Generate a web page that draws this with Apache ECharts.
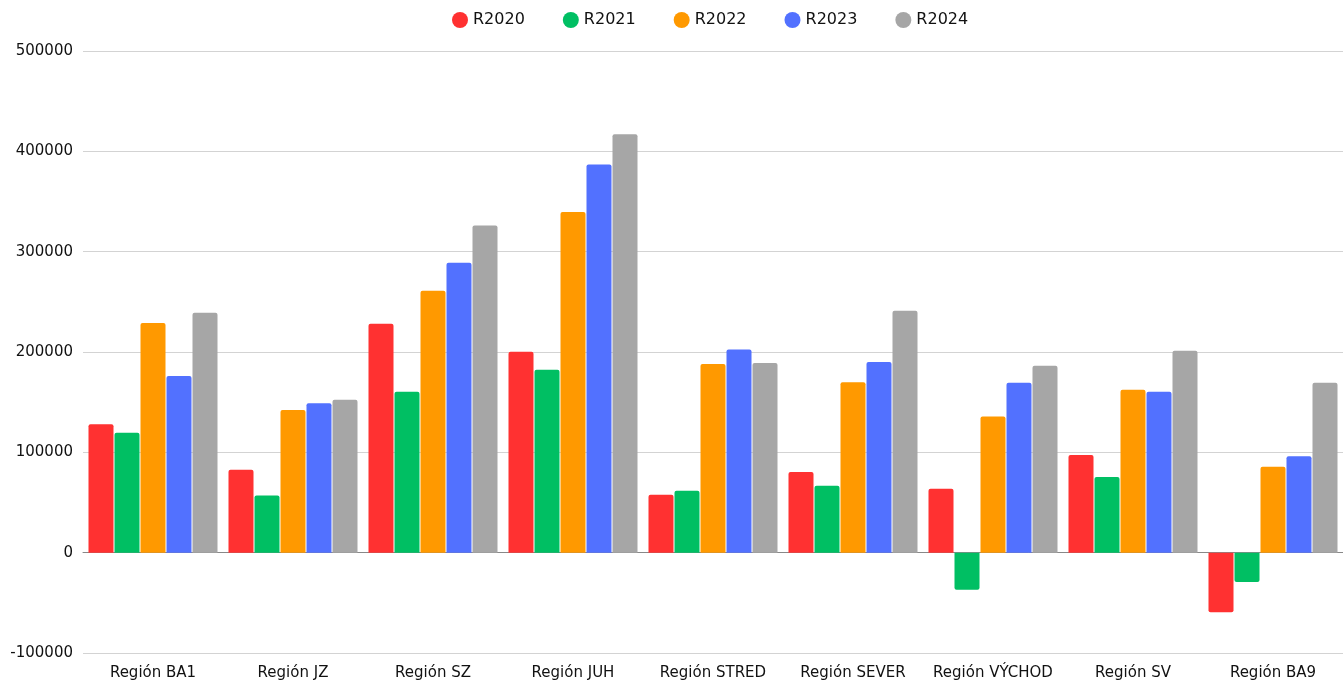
<!DOCTYPE html>
<html>
<head>
<meta charset="utf-8">
<script src="https://cdn.jsdelivr.net/npm/echarts@6/dist/echarts.min.js"></script>
<style>html,body{margin:0;padding:0;background:#fff}#c{width:1343px;height:684px}</style>
</head>
<body>
<div id="c"></div>
<script>
const categories = ['Región BA1','Región JZ','Región SZ','Región JUH','Región STRED','Región SEVER','Región VÝCHOD','Región SV','Región BA9'];
const seriesNames = ['R2020','R2021','R2022','R2023','R2024'];
const colors = ['#FF3131','#00BF63','#FF9900','#5271FF','#A6A6A6'];
const R2020 = [128000, 82700, 228200, 200300, 57800, 80400, 63800, 97400, -59500];
const R2021 = [119600, 57100, 160500, 182400, 61800, 66800, -36900, 75400, -29200];
const R2022 = [229000, 142200, 261100, 339600, 188000, 169800, 135600, 162500, 85700];
const R2023 = [176000, 148800, 289000, 387000, 202600, 190000, 169400, 160500, 96000];
const R2024 = [239000, 152500, 326000, 417000, 189000, 241200, 186400, 201300, 169400];
const yTicks = [-100000, 0, 100000, 200000, 300000, 400000, 500000];
const values = [R2020, R2021, R2022, R2023, R2024];

const font = 'DejaVu Sans';
const chart = echarts.init(document.getElementById('c'), null, {renderer:'canvas'});
chart.setOption({
  animation: false,
  textStyle: {fontFamily: font},
  legend: {
    top: 7, left: 447, icon: 'circle', itemWidth: 16, itemHeight: 16, itemGap: 38,
    textStyle: {fontFamily: font, fontSize: 16, color: '#111'},
    data: seriesNames
  },
  grid: {left: 83, top: 51, width: 1261, bottom: 31, containLabel: false},
  xAxis: {
    type: 'category', data: categories,
    axisTick: {show: false},
    axisLine: {show: true, onZero: true, lineStyle: {color: '#888', width: 1}},
    axisLabel: {fontFamily: font, fontSize: 15, color: '#111', margin: 13, interval: 0}
  },
  yAxis: {
    type: 'value', min: yTicks[0], max: yTicks[yTicks.length-1], interval: 100000,
    axisLine: {show: false}, axisTick: {show: false},
    splitLine: {lineStyle: {color: '#d3d3d3', width: 1}},
    axisLabel: {fontFamily: font, fontSize: 15, color: '#111', margin: 10, formatter: v => String(v)}
  },
  series: seriesNames.map((n, i) => ({
    name: n, type: 'bar', barWidth: 25, barGap: '4%',
    itemStyle: {color: colors[i]},
    data: values[i].map(v => ({value: v, itemStyle: {borderRadius: v >= 0 ? [2,2,0,0] : [0,0,2,2]}}))
  }))
});
</script>
</body>
</html>
